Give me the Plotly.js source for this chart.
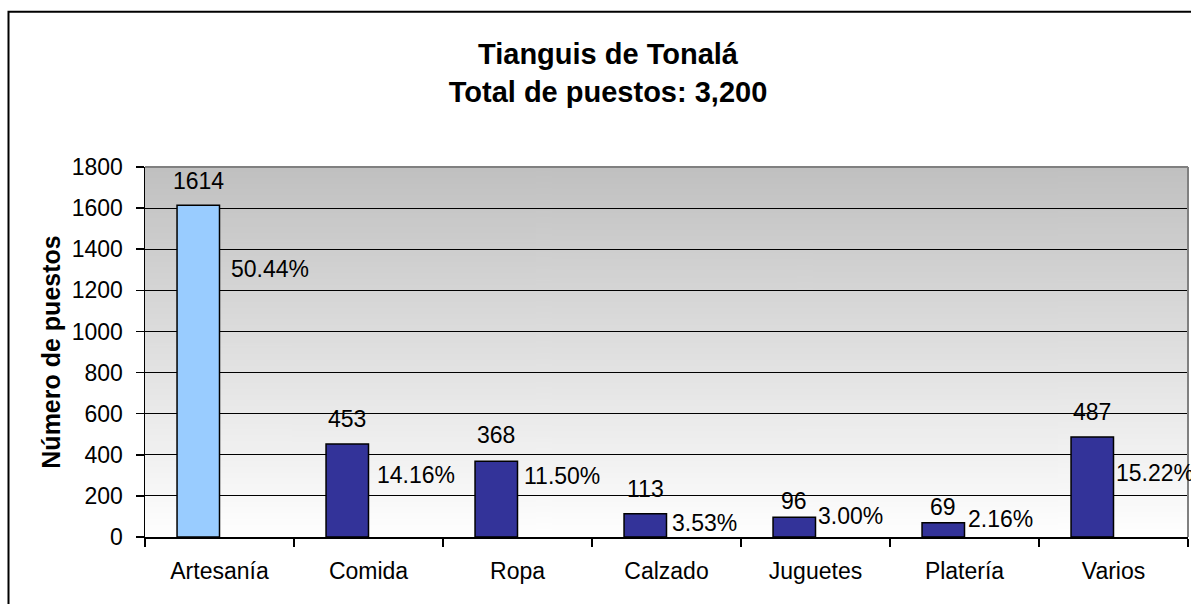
<!DOCTYPE html>
<html>
<head>
<meta charset="utf-8">
<script src="https://cdn.plot.ly/plotly-3.0.1.min.js"></script>
<style>
  html, body { margin: 0; padding: 0; background: #fff; }
  #chart { width: 1191px; height: 604px; }
</style>
</head>
<body>
<div id="chart"></div>
<script>
// ---- data ----
const categories = ['Artesanía', 'Comida', 'Ropa', 'Calzado', 'Juguetes', 'Platería', 'Varios'];
const counts = [1614, 453, 368, 113, 96, 69, 487];
const percentLabels = ['50.44%', '14.16%', '11.50%', '3.53%', '3.00%', '2.16%', '15.22%'];
const yTicks = [0, 200, 400, 600, 800, 1000, 1200, 1400, 1600, 1800];

// ---- styling / label placement (pixels) ----
const barColors = ['#99CCFF', '#333399', '#333399', '#333399', '#333399', '#333399', '#333399'];
const barWidth = 0.285;
const valueRaise = [24, 25, 26, 24.5, 16.5, 16, 25];
const pctDrop = [64, 31, 15, 9, -1, -3.5, 36.5];
const pctGap = [12, 9, 7.5, 6, 3.4, 4.5, 3];

const FONT = '"Liberation Sans", Arial, sans-serif';
const BODY = 23;

// gradient background for plot area
const cv = document.createElement('canvas');
cv.width = 4; cv.height = 256;
const cx = cv.getContext('2d');
const g = cx.createLinearGradient(0, 0, 0, 256);
g.addColorStop(0, '#C0C0C0');
g.addColorStop(1, '#FFFFFF');
cx.fillStyle = g;
cx.fillRect(0, 0, 4, 256);
const gradURL = cv.toDataURL('image/png');

const trace = {
  type: 'bar',
  x: categories,
  y: counts,
  width: barWidth,
  offset: -barWidth,
  marker: { color: barColors, line: { color: '#000', width: 1.5 } },
  hoverinfo: 'skip',
  showlegend: false
};

const annotations = [];
categories.forEach((c, i) => {
  annotations.push({
    x: i - barWidth / 2, y: counts[i], xref: 'x', yref: 'y',
    text: String(counts[i]), showarrow: false,
    xanchor: 'center', yanchor: 'middle', yshift: valueRaise[i],
    font: { family: FONT, size: BODY, color: '#000' }
  });
  annotations.push({
    x: i, y: counts[i], xref: 'x', yref: 'y',
    text: percentLabels[i], showarrow: false,
    xanchor: 'left', yanchor: 'middle', xshift: pctGap[i] - 3, yshift: -pctDrop[i],
    font: { family: FONT, size: BODY, color: '#000' }
  });
});

const layout = {
  width: 1191, height: 604,
  paper_bgcolor: '#fff', plot_bgcolor: '#fff',
  margin: { l: 145, r: 3, t: 167, b: 67, pad: 0 },
  font: { family: FONT, size: BODY, color: '#000' },
  title: {
    text: '<b>Tianguis de Tonalá</b><br><b>Total de puestos: 3,200</b>',
    font: { family: FONT, size: 29, color: '#000' },
    xref: 'container', x: 608 / 1191, xanchor: 'center',
    yref: 'container', y: 1 - 64 / 604, yanchor: 'top'
  },
  xaxis: {
    type: 'category',
    range: [-0.5, 6.5],
    showline: true, linecolor: '#000', linewidth: 1.5,
    ticks: 'outside', tickson: 'boundaries', ticklen: 8, tickcolor: '#000', tickwidth: 1.5,
    showgrid: false, zeroline: false,
    tickfont: { family: FONT, size: BODY, color: '#000' },
    ticklabelstandoff: 13,
    fixedrange: true
  },
  yaxis: {
    range: [0, 1800],
    tickvals: yTicks,
    showline: true, linecolor: '#000', linewidth: 1.5,
    ticks: 'outside', ticklen: 8, tickcolor: '#000', tickwidth: 1.5,
    showgrid: true, gridcolor: '#000', gridwidth: 1.2,
    zeroline: false,
    tickfont: { family: FONT, size: BODY, color: '#000' },
    ticklabelstandoff: 8,
    title: { text: '<b>Número de puestos</b>', font: { family: FONT, size: 25, color: '#000' }, standoff: 4 },
    fixedrange: true
  },
  images: [{
    source: gradURL, xref: 'paper', yref: 'paper', x: 0, y: 1, sizex: 1, sizey: 1,
    xanchor: 'left', yanchor: 'top', sizing: 'stretch', layer: 'below'
  }],
  shapes: [
    { type: 'rect', xref: 'paper', yref: 'paper', x0: (8.5 - 145) / 1043, x1: 1.1, y0: -0.5, y1: (537 - 11.8) / 370,
      line: { color: '#000', width: 2 }, fillcolor: 'rgba(0,0,0,0)', layer: 'below' },
    { type: 'line', xref: 'paper', yref: 'paper', x0: 0, x1: 1, y0: 1, y1: 1,
      line: { color: '#808080', width: 2 }, layer: 'above' },
    { type: 'line', xref: 'paper', yref: 'paper', x0: 1, x1: 1, y0: 0, y1: 1,
      line: { color: '#808080', width: 2 }, layer: 'above' }
  ],
  annotations: annotations,
  bargap: 0
};

Plotly.newPlot('chart', [trace], layout, { displayModeBar: false, staticPlot: true });
</script>
</body>
</html>
